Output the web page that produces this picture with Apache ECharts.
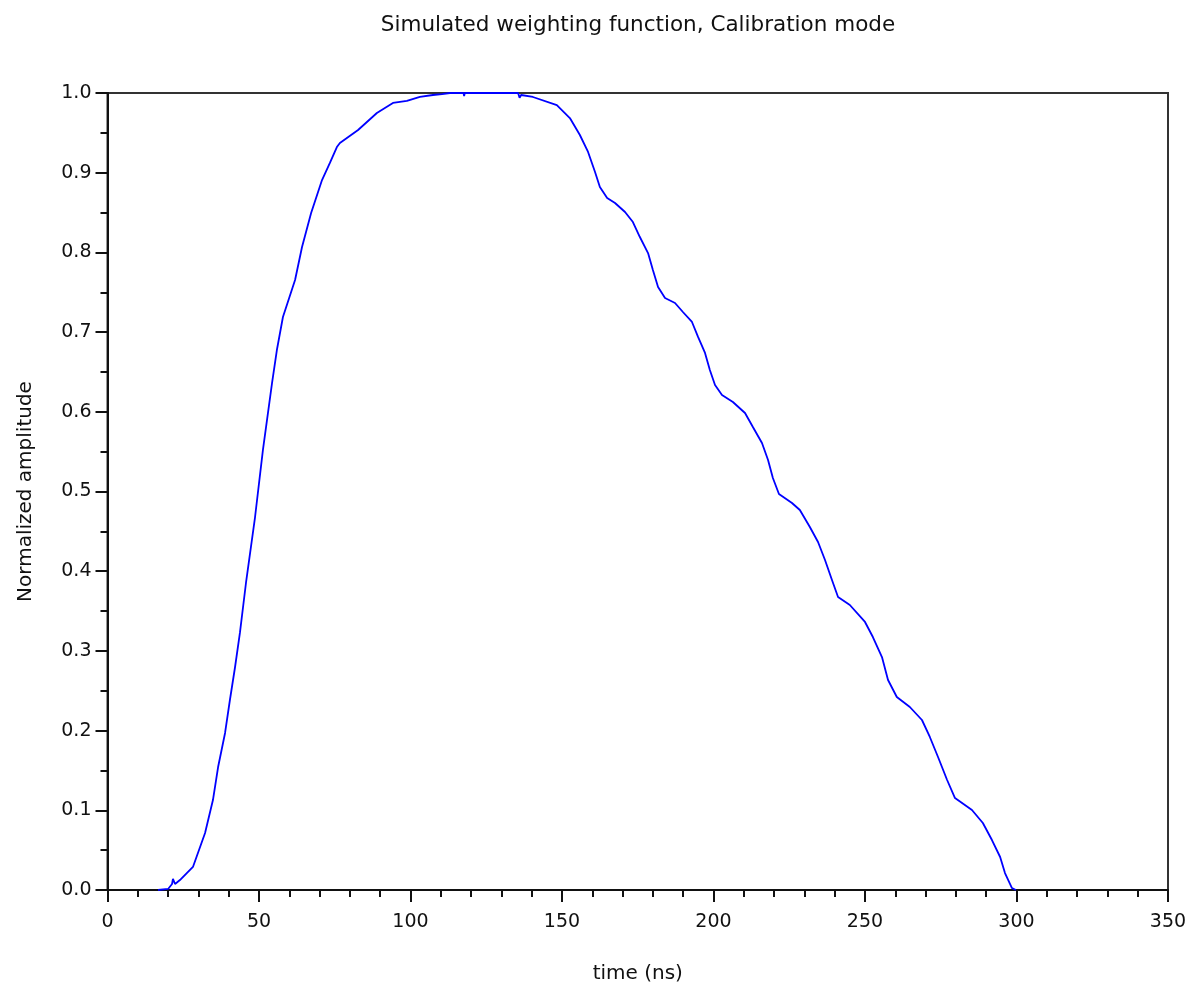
<!DOCTYPE html>
<html>
<head>
<meta charset="utf-8">
<script src="https://cdn.jsdelivr.net/npm/echarts@6/dist/echarts.min.js"></script>
<style>
html,body{margin:0;padding:0;background:#fff;}
#chart{width:1202px;height:986px;}
</style>
</head>
<body>
<div id="chart"></div>
<script>
var titleText = 'Simulated weighting function, Calibration mode';
var xName = 'time (ns)';
var yName = 'Normalized amplitude';

var timeNs = [16.7, 20.0, 21.3, 21.6, 22.3, 23.9, 28.2, 32.2, 34.8, 36.5, 38.8, 40.4, 42.1, 43.7, 45.7, 48.7, 51.3, 54.3, 55.9, 57.9, 61.9, 64.2, 67.2, 70.8, 73.4, 75.7, 76.7, 82.7, 88.9, 94.2, 98.8, 103.1, 107.4, 110.4, 113, 117.5, 117.7, 117.9, 125, 135.5, 136.0, 136.5, 140.4, 148.3, 152.6, 155.9, 158.6, 160.9, 162.5, 164.9, 167.5, 170.8, 173.4, 175.7, 178.4, 180.0, 181.7, 184.0, 187.3, 189.9, 192.9, 194.9, 197.2, 198.8, 200.5, 202.8, 206.4, 210.4, 213.0, 216.0, 218.0, 219.6, 221.6, 225.9, 228.5, 231.8, 234.5, 236.8, 239.1, 241.1, 245.0, 250.0, 252.6, 255.6, 257.6, 260.5, 264.8, 268.8, 271.4, 274.1, 277.1, 279.7, 285.3, 288.9, 291.9, 294.6, 296.2, 298.5, 299.8];

var amplitude = [0, 0.0013, 0.0075, 0.014, 0.0075, 0.0125, 0.0289, 0.0715, 0.1129, 0.1543, 0.197, 0.2384, 0.2798, 0.3225, 0.3852, 0.468, 0.5521, 0.6361, 0.6775, 0.7189, 0.7654, 0.8068, 0.8494, 0.8908, 0.9122, 0.9322, 0.9373, 0.9536, 0.9749, 0.9875, 0.99, 0.995, 0.9975, 0.9987, 1.0, 1.0, 0.996, 1.0, 1.0, 1.0, 0.994, 0.9975, 0.995, 0.9849, 0.9686, 0.9473, 0.926, 0.9009, 0.8821, 0.8683, 0.862, 0.8507, 0.8381, 0.8193, 0.7992, 0.7779, 0.7566, 0.7428, 0.7365, 0.7252, 0.7127, 0.6939, 0.6738, 0.6524, 0.6336, 0.6211, 0.6123, 0.5985, 0.5809, 0.5609, 0.5395, 0.5169, 0.4969, 0.4856, 0.4768, 0.4555, 0.4366, 0.4141, 0.389, 0.3676, 0.3576, 0.3363, 0.3174, 0.2923, 0.2635, 0.2422, 0.2296, 0.2133, 0.192, 0.1669, 0.138, 0.1154, 0.1004, 0.0841, 0.0627, 0.0414, 0.0213, 0.0025, 0];

var points = timeNs.map(function (t, i) { return [t, amplitude[i]]; });

var FONT = 'DejaVu Sans';
var INK = '#111';
var chart = echarts.init(document.getElementById('chart'), null, {renderer: 'canvas'});
chart.setOption({
  backgroundColor: '#ffffff',
  animation: false,
  title: {
    text: titleText,
    left: 633,
    textAlign: 'center',
    top: 9,
    textStyle: {fontFamily: FONT, fontSize: 21.5, fontWeight: 'normal', color: INK}
  },
  grid: {
    left: 107.5, right: 34, top: 93, bottom: 96,
    outerBoundsMode: 'none',
    containLabel: false,
    show: true, borderColor: '#333', borderWidth: 2, backgroundColor: 'transparent'
  },
  xAxis: {
    type: 'value', min: 0, max: 350, interval: 50,
    name: xName, nameLocation: 'middle', nameGap: 74,
    nameTextStyle: {fontFamily: FONT, fontSize: 20, color: INK},
    axisLine: {show: true, onZero: false, lineStyle: {color: INK, width: 2}},
    axisTick: {show: true, inside: false, length: 12, lineStyle: {color: INK, width: 2}},
    minorTick: {show: true, splitNumber: 5, length: 7, lineStyle: {color: INK, width: 2}},
    axisLabel: {fontFamily: FONT, fontSize: 19, color: INK, margin: 23},
    splitLine: {show: false}
  },
  yAxis: {
    type: 'value', min: 0, max: 1, interval: 0.1,
    name: yName, nameLocation: 'middle', nameGap: 72, nameRotate: 90,
    nameTextStyle: {fontFamily: FONT, fontSize: 20, color: INK},
    axisLine: {show: true, onZero: false, lineStyle: {color: INK, width: 2}},
    axisTick: {show: true, inside: false, length: 12, lineStyle: {color: INK, width: 2}},
    minorTick: {show: true, splitNumber: 2, length: 7, lineStyle: {color: INK, width: 2}},
    axisLabel: {fontFamily: FONT, fontSize: 19, color: INK, margin: 16,
      formatter: function (v) { return v.toFixed(1); }},
    splitLine: {show: false}
  },
  series: [{
    type: 'line',
    data: points,
    showSymbol: false,
    symbol: 'none',
    clip: true,
    lineStyle: {color: '#0000ff', width: 1.8},
    itemStyle: {color: '#0000ff'}
  }]
});
</script>
</body>
</html>
